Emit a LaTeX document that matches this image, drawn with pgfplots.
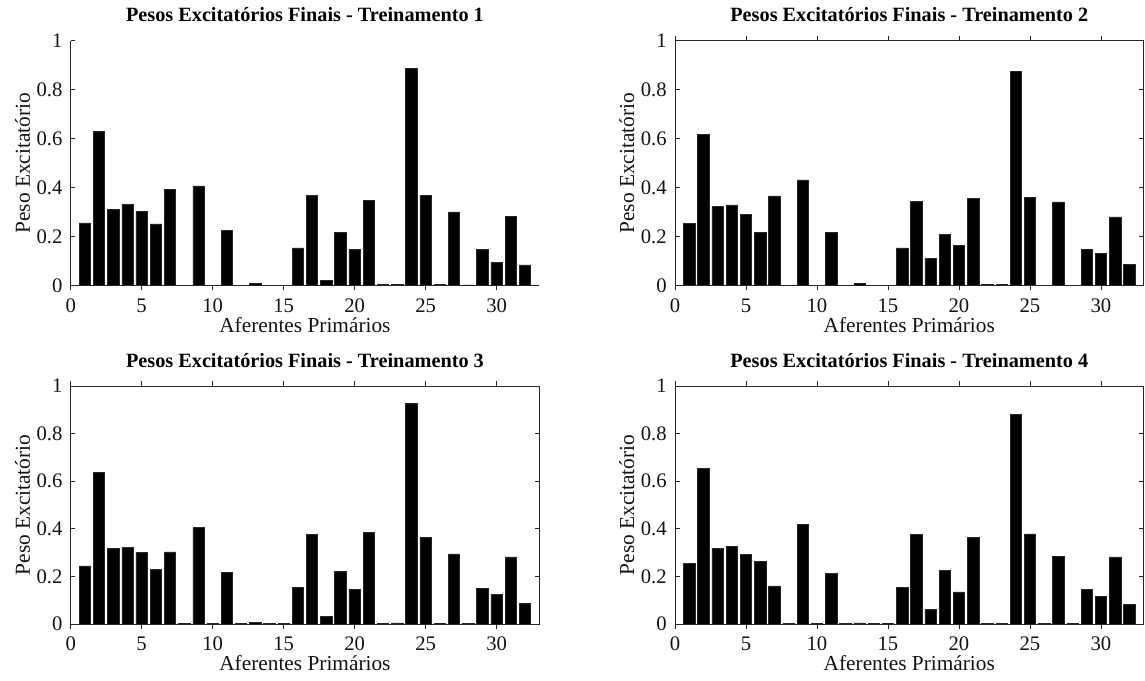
\documentclass[border=0pt]{standalone}
\usepackage{fontspec}
\setmainfont{Liberation Serif}
\usepackage{pgfplots}
\usepackage{pgfplotstable}
\pgfplotsset{compat=1.18}

\pgfplotstableread{
x y
1 0.256
2 0.630
3 0.312
4 0.332
5 0.303
6 0.252
7 0.393
8 0.002
9 0.407
10 0.002
11 0.225
12 0.001
13 0.008
14 0.002
15 0.002
16 0.154
17 0.368
18 0.020
19 0.218
20 0.149
21 0.348
22 0.005
23 0.004
24 0.887
25 0.370
26 0.004
27 0.301
28 0.003
29 0.147
30 0.094
31 0.282
32 0.085
}\tA
\pgfplotstableread{
x y
1 0.255
2 0.618
3 0.323
4 0.330
5 0.292
6 0.218
7 0.366
8 0.002
9 0.432
10 0.002
11 0.218
12 0.001
13 0.008
14 0.002
15 0.002
16 0.154
17 0.345
18 0.112
19 0.209
20 0.164
21 0.356
22 0.004
23 0.004
24 0.876
25 0.360
26 0.002
27 0.342
28 0.002
29 0.147
30 0.131
31 0.281
32 0.086
}\tB
\pgfplotstableread{
x y
1 0.244
2 0.636
3 0.317
4 0.322
5 0.302
6 0.229
7 0.303
8 0.002
9 0.405
10 0.002
11 0.217
12 0.002
13 0.008
14 0.002
15 0.002
16 0.154
17 0.378
18 0.033
19 0.220
20 0.147
21 0.385
22 0.004
23 0.005
24 0.926
25 0.363
26 0.002
27 0.295
28 0.004
29 0.150
30 0.123
31 0.282
32 0.086
}\tC
\pgfplotstableread{
x y
1 0.255
2 0.655
3 0.317
4 0.327
5 0.291
6 0.262
7 0.160
8 0.002
9 0.417
10 0.002
11 0.213
12 0.002
13 0.005
14 0.002
15 0.002
16 0.154
17 0.378
18 0.061
19 0.225
20 0.135
21 0.364
22 0.004
23 0.002
24 0.880
25 0.379
26 0.004
27 0.285
28 0.002
29 0.147
30 0.115
31 0.282
32 0.082
}\tD

\pgfplotsset{
  myax/.style={
    scale only axis,
    width=351.4pt,
    anchor=south west,
    xmin=0, xmax=33, ymin=0, ymax=1,
    xtick={0,5,...,30}, ytick={0,0.2,...,1},
    /pgf/number format/assume math mode=true,
    tick align=inside, major tick length=3.5pt,
    axis line style={gray!30!black, line width=0.6pt},
    tick style={gray!30!black, line width=0.6pt},
    every tick label/.append style={font=\fontsize{15.5pt}{17pt}\selectfont, text=gray!15!black},
    xticklabel style={anchor=base, inner sep=0pt, yshift=-16.5pt},
    yticklabel style={anchor=east, inner sep=0pt, xshift=-6pt},
    yticklabel={\pgfmathprintnumber[fixed,precision=1]{\tick}},
    label style={font=\fontsize{16pt}{18pt}\selectfont, text=gray!15!black},
    xlabel={Aferentes Primários},
    ylabel={Peso Excitatório},
    xlabel style={at={(axis description cs:0.5,0)}, anchor=base, inner sep=0pt, yshift=-35pt},
    ylabel style={at={(axis description cs:-0.087,0.5)}, anchor=base, inner sep=0pt},
    title style={at={(axis description cs:0.5,1)}, anchor=base, inner sep=0pt, yshift=8pt, font=\bfseries\fontsize{15.2pt}{17pt}\selectfont},
    ybar, bar width=0.8, bar shift=0pt,
  },
  mybar/.style={fill=black, draw=black!85, line width=0.4pt},
}

\begin{document}
\begin{tikzpicture}
\useasboundingbox (0,0) rectangle (858.75pt,510.75pt);
\begin{axis}[myax, height=183.75pt, at={(53pt,296.5pt)}, axis x line*=bottom, axis y line*=left,
  title={Pesos Excitatórios Finais - Treinamento 1}]
\addplot[mybar] table[x=x,y=y] {\tA};
\end{axis}
\begin{axis}[myax, height=183.75pt, at={(506.25pt,296.5pt)},
  title={Pesos Excitatórios Finais - Treinamento 2}]
\addplot[mybar] table[x=x,y=y] {\tB};
\end{axis}
\begin{axis}[myax, height=178.5pt, at={(53pt,42.75pt)},
  title={Pesos Excitatórios Finais - Treinamento 3}]
\addplot[mybar] table[x=x,y=y] {\tC};
\end{axis}
\begin{axis}[myax, height=178.5pt, at={(506.25pt,42.75pt)},
  title={Pesos Excitatórios Finais - Treinamento 4}]
\addplot[mybar] table[x=x,y=y] {\tD};
\end{axis}
\end{tikzpicture}
\end{document}
